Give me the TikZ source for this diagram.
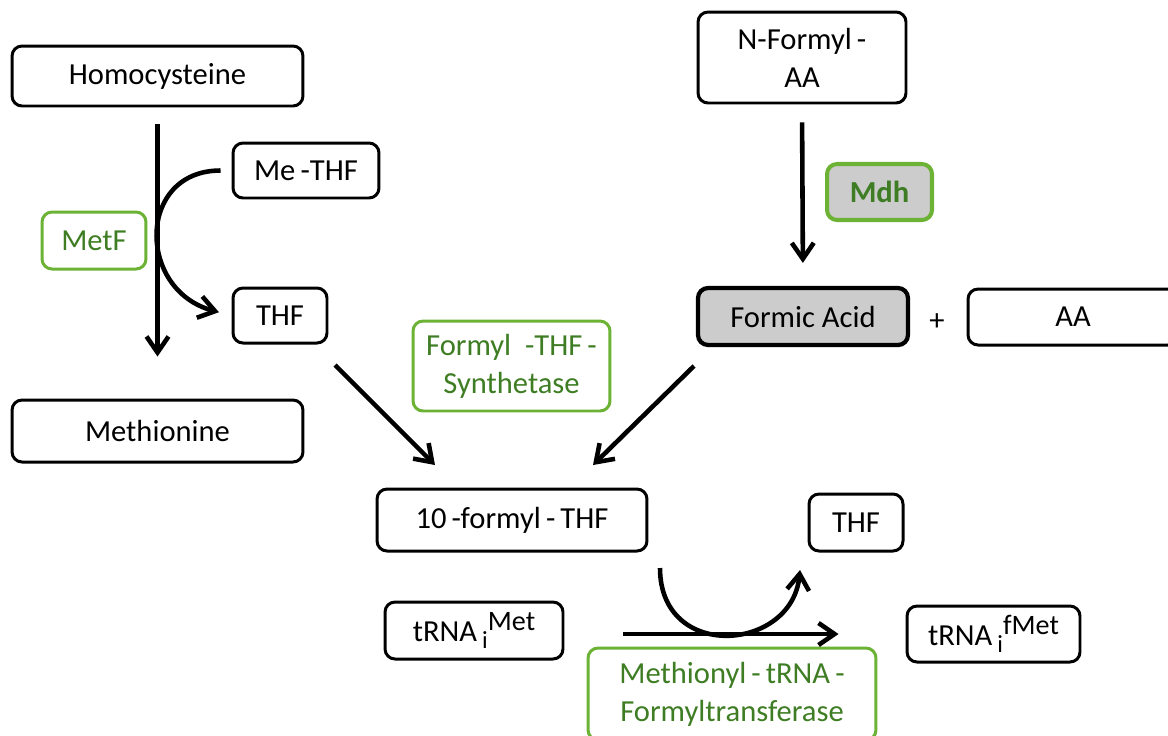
\documentclass[tikz,border=0pt]{standalone}
\usepackage{fontspec}
\setmainfont{Carlito}
\usetikzlibrary{arrows.meta}

\definecolor{enzgreen}{RGB}{62,125,35}
\definecolor{enzborder}{RGB}{108,178,52}
\definecolor{acidgray}{RGB}{204,204,204}

\newcommand{\trnasub}[2]{tRNA\,\raisebox{-0.5ex}{\fontsize{14}{14}\selectfont #1}\raisebox{0.75ex}{\fontsize{16}{16}\selectfont #2}}

\begin{document}
\begin{tikzpicture}[x=0.02cm,y=-0.02cm]

\tikzstyle{every node}=[font=\fontsize{17.4}{21.5}\selectfont]
\tikzstyle{mol}=[draw,line width=1.7pt,rounded corners=0.2cm,inner sep=0pt,align=center]
\tikzstyle{enzyme}=[mol,draw=enzborder,text=enzgreen]
\tikzstyle{react}=[line width=2.6pt,-{Straight Barb[length=3.2mm,width=4.4mm]}]

\useasboundingbox (0,0) rectangle (1168,735);

% Methionine branch
\node[mol,minimum width=5.82cm,minimum height=1.2cm] (homocys) at (157.5,76) {Homocysteine};
\node[mol,minimum width=2.92cm,minimum height=1.1cm] (methf) at (306,170.5) {Me\,-THF};
\node[enzyme,minimum width=2.08cm,minimum height=1.14cm] (metf) at (94,240.5) {MetF};
\node[mol,minimum width=1.88cm,minimum height=1.1cm] (thfa) at (280,315.5) {THF};
\node[mol,minimum width=5.82cm,minimum height=1.24cm] (methio) at (157.5,431) {Methionine};

% Deformylation branch
\node[mol,minimum width=4.16cm,minimum height=1.82cm] (nfaa) at (802,57.5) {N-Formyl\,-\\AA};
\node[enzyme,line width=2.3pt,fill=acidgray,font=\fontsize{17.4}{21.5}\selectfont\bfseries,minimum width=2.1cm,minimum height=1.12cm] (mdh) at (879.5,192) {Mdh};
\node[mol,line width=2.4pt,fill=acidgray,minimum width=4.2cm,minimum height=1.14cm] (formic) at (803,316.5) {Formic Acid};
\node (plus) at (937,322) {+};
\node[mol,minimum width=4.2cm,minimum height=1.12cm] (aa) at (1073,317) {AA};

% Formylation
\node[enzyme,minimum width=3.94cm,minimum height=1.8cm] (fthfs) at (511.5,366) {Formyl \ -THF\,-\\Synthetase};
\node[mol,minimum width=5.4cm,minimum height=1.24cm] (tenf) at (512,520) {10\,-formyl\,-\,THF};
\node[mol,minimum width=1.88cm,minimum height=1.14cm] (thfb) at (856,522.5) {THF};
\node[mol,minimum width=3.56cm,minimum height=1.14cm] (trnam) at (474,630.5) {\trnasub{i}{Met}};
\node[mol,minimum width=3.46cm,minimum height=1.12cm] (trnafm) at (993.5,634) {\trnasub{i}{fMet}};
\node[enzyme,minimum width=5.76cm,minimum height=1.84cm] (mtft) at (732,694) {Methionyl\,-\,tRNA\,-\\Formyltransferase};

% Free ends of the arrows
\coordinate (thfout) at (335,365);
\coordinate (tenfin1) at (435,465);
\coordinate (formout) at (694,366);
\coordinate (tenfin2) at (593,465);
\coordinate (tenfout) at (660,568);
\coordinate (thfin) at (800,570);

% Reactions
\draw[react,shorten <=0.34cm,shorten >=0.84cm] (homocys.south) -- (methio.north);
\draw[react,shorten <=0.22cm,shorten >=0.26cm] (methf.west) .. controls +(-95,0) and +(-95,-25) .. (thfa.west);
\draw[react,shorten <=0.36cm,shorten >=0.46cm] (nfaa.south) -- (formic.north);
\draw[react] (thfout) -- (tenfin1);
\draw[react] (formout) -- (tenfin2);
\draw[react,shorten <=1.18cm,shorten >=1.34cm] (trnam.east |- trnafm) -- (trnafm.west);
\draw[react] (tenfout) .. controls (660,662) and (792,652) .. (thfin);

\end{tikzpicture}
\end{document}
